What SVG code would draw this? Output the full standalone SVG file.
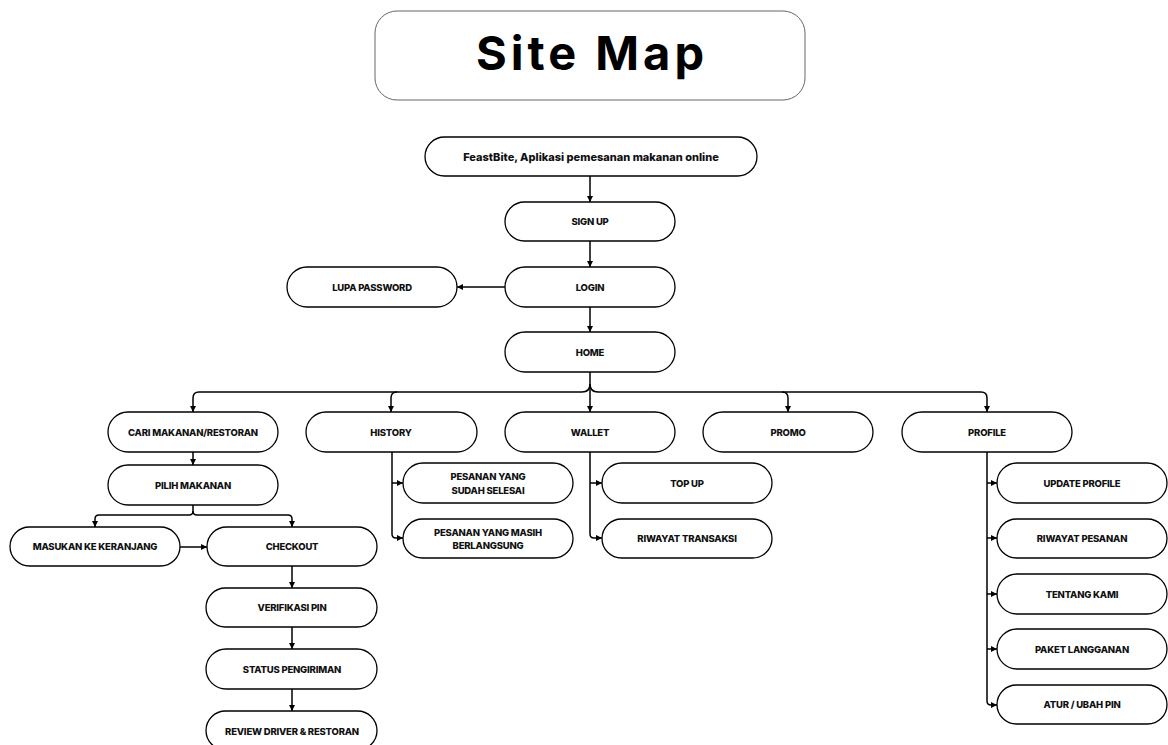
<svg xmlns="http://www.w3.org/2000/svg" width="1168" height="745" viewBox="0 0 1168 745">
<style>
.bx{fill:#fff;stroke:#000;stroke-width:1.3}
.t{font-family:Inter,"Liberation Sans",sans-serif;font-weight:800;font-size:9.5px;fill:#111;text-anchor:middle;dominant-baseline:central;letter-spacing:-0.2px}
.c{fill:none;stroke:#000;stroke-width:1.5}
</style>
<defs>
<marker id="ah" markerUnits="userSpaceOnUse" markerWidth="7" markerHeight="7" refX="6" refY="3" orient="auto">
<path d="M0,0 L6,3 L0,6 z" fill="#000"/>
</marker>
</defs>
<rect width="1168" height="745" fill="#fff"/>
<g id="title">
<rect x="375" y="11" width="430" height="89" rx="22" fill="#fff" stroke="#666" stroke-width="1"/>
<text x="592" y="70" font-family="Inter,'Liberation Sans',sans-serif" font-weight="700" font-size="47" letter-spacing="4" text-anchor="middle" fill="#000">Site Map</text>
</g>
<g id="connectors">
<path class="c" d="M590,176 V202" marker-end="url(#ah)"/>
<path class="c" d="M590,241 V267" marker-end="url(#ah)"/>
<path class="c" d="M505,287 H457" marker-end="url(#ah)"/>
<path class="c" d="M590,307 V332" marker-end="url(#ah)"/>
<path class="c" d="M590,372 V412" marker-end="url(#ah)"/>
<path class="c" d="M590,384 Q590,392 582,392 H199 Q193,392 193,398 V412" marker-end="url(#ah)"/>
<path class="c" d="M397,392 Q391,392 391,398 V412" marker-end="url(#ah)"/>
<path class="c" d="M590,384 Q590,392 598,392 H981 Q987,392 987,398 V412" marker-end="url(#ah)"/>
<path class="c" d="M782,392 Q788,392 788,398 V412" marker-end="url(#ah)"/>
<path class="c" d="M193,452 V465" marker-end="url(#ah)"/>
<path class="c" d="M193,505 V511 Q193,515 189,515 H99 Q95,515 95,519 V527" marker-end="url(#ah)"/>
<path class="c" d="M193,511 Q193,515 197,515 H288 Q292,515 292,519 V527" marker-end="url(#ah)"/>
<path class="c" d="M180,547 H207" marker-end="url(#ah)"/>
<path class="c" d="M292,566 V588" marker-end="url(#ah)"/>
<path class="c" d="M292,627 V649" marker-end="url(#ah)"/>
<path class="c" d="M292,689 V711" marker-end="url(#ah)"/>
<path class="c" d="M392,452 V534 Q392,538 396,538 H403" marker-end="url(#ah)"/>
<path class="c" d="M392,483 H403" marker-end="url(#ah)"/>
<path class="c" d="M590,452 V534 Q590,538 594,538 H602" marker-end="url(#ah)"/>
<path class="c" d="M590,483 H602" marker-end="url(#ah)"/>
<path class="c" d="M987,452 V701 Q987,705 991,705 H997" marker-end="url(#ah)"/>
<path class="c" d="M987,483 H997" marker-end="url(#ah)"/>
<path class="c" d="M987,538 H997" marker-end="url(#ah)"/>
<path class="c" d="M987,594 H997" marker-end="url(#ah)"/>
<path class="c" d="M987,649 H997" marker-end="url(#ah)"/>
</g>
<g id="feastbite"><rect class="bx" x="425" y="137" width="332" height="39" rx="19.5"/><text class="t" x="591" y="156.5" style="font-size:11px;letter-spacing:0px">FeastBite, Aplikasi pemesanan makanan online</text></g>
<g id="signup"><rect class="bx" x="505" y="202" width="170" height="39" rx="19.5"/><text class="t" x="590" y="221.5">SIGN UP</text></g>
<g id="login"><rect class="bx" x="505" y="267" width="170" height="40" rx="20"/><text class="t" x="590" y="287">LOGIN</text></g>
<g id="lupa"><rect class="bx" x="287" y="267" width="170" height="40" rx="20"/><text class="t" x="372" y="287">LUPA PASSWORD</text></g>
<g id="home"><rect class="bx" x="505" y="332" width="170" height="40" rx="20"/><text class="t" x="590" y="352">HOME</text></g>
<g id="cari"><rect class="bx" x="108" y="412" width="170" height="40" rx="20"/><text class="t" x="193" y="432">CARI MAKANAN/RESTORAN</text></g>
<g id="history"><rect class="bx" x="306" y="412" width="171" height="40" rx="20"/><text class="t" x="391" y="432">HISTORY</text></g>
<g id="wallet"><rect class="bx" x="505" y="412" width="170" height="40" rx="20"/><text class="t" x="590" y="432">WALLET</text></g>
<g id="promo"><rect class="bx" x="703" y="412" width="170" height="40" rx="20"/><text class="t" x="788" y="432">PROMO</text></g>
<g id="profile"><rect class="bx" x="902" y="412" width="170" height="40" rx="20"/><text class="t" x="987" y="432">PROFILE</text></g>
<g id="pilih"><rect class="bx" x="108" y="465" width="170" height="40" rx="20"/><text class="t" x="193" y="485">PILIH MAKANAN</text></g>
<g id="masukan"><rect class="bx" x="10" y="527" width="170" height="39" rx="19.5"/><text class="t" x="95" y="546.5">MASUKAN KE KERANJANG</text></g>
<g id="checkout"><rect class="bx" x="207" y="527" width="170" height="39" rx="19.5"/><text class="t" x="292" y="546.5">CHECKOUT</text></g>
<g id="verifikasi"><rect class="bx" x="206" y="588" width="171" height="39" rx="19.5"/><text class="t" x="292" y="607.5">VERIFIKASI PIN</text></g>
<g id="status"><rect class="bx" x="206" y="649" width="171" height="40" rx="20"/><text class="t" x="292" y="669">STATUS PENGIRIMAN</text></g>
<g id="review"><rect class="bx" x="206" y="711" width="171" height="39" rx="19.5"/><text class="t" x="292" y="731">REVIEW DRIVER &amp; RESTORAN</text></g>
<g id="selesai"><rect class="bx" x="403" y="463" width="170" height="40" rx="20"/><text class="t" x="488" y="476.5">PESANAN YANG</text><text class="t" x="488" y="490">SUDAH SELESAI</text></g>
<g id="berlangsung"><rect class="bx" x="403" y="519" width="170" height="39" rx="19.5"/><text class="t" x="488" y="532">PESANAN YANG MASIH</text><text class="t" x="488" y="545">BERLANGSUNG</text></g>
<g id="topup"><rect class="bx" x="602" y="463" width="170" height="40" rx="20"/><text class="t" x="687" y="483">TOP UP</text></g>
<g id="riwayattransaksi"><rect class="bx" x="602" y="519" width="170" height="39" rx="19.5"/><text class="t" x="687" y="538.5">RIWAYAT TRANSAKSI</text></g>
<g id="updateprofile"><rect class="bx" x="997" y="463" width="170" height="40" rx="20"/><text class="t" x="1082" y="483">UPDATE PROFILE</text></g>
<g id="riwayatpesanan"><rect class="bx" x="997" y="519" width="170" height="39" rx="19.5"/><text class="t" x="1082" y="538.5">RIWAYAT PESANAN</text></g>
<g id="tentang"><rect class="bx" x="997" y="574" width="170" height="40" rx="20"/><text class="t" x="1082" y="594">TENTANG KAMI</text></g>
<g id="paket"><rect class="bx" x="997" y="629" width="170" height="40" rx="20"/><text class="t" x="1082" y="649">PAKET LANGGANAN</text></g>
<g id="atur"><rect class="bx" x="997" y="685" width="170" height="39" rx="19.5"/><text class="t" x="1082" y="704.5">ATUR / UBAH PIN</text></g>
</svg>
